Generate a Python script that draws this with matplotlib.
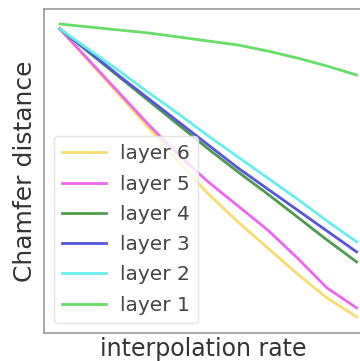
import numpy as np
import matplotlib.pyplot as plt

# interpolation rate samples
rate = [0.0, 0.1, 0.2, 0.3, 0.4, 0.5, 0.6, 0.7, 0.8, 0.9, 1.0]

# Chamfer distance per layer (arbitrary units)
layer_6 = [3.04, 2.71, 2.38, 2.05, 1.71, 1.39, 1.11, 0.85, 0.59, 0.35, 0.16]
layer_5 = [3.04, 2.72, 2.40, 2.08, 1.78, 1.51, 1.27, 1.03, 0.75, 0.45, 0.25]
layer_4 = [3.04, 2.80, 2.56, 2.32, 2.08, 1.84, 1.61, 1.39, 1.16, 0.93, 0.71]
layer_3 = [3.04, 2.81, 2.57, 2.34, 2.11, 1.88, 1.65, 1.44, 1.23, 1.02, 0.81]
layer_2 = [3.04, 2.83, 2.62, 2.40, 2.19, 1.97, 1.76, 1.55, 1.34, 1.12, 0.91]
layer_1 = [3.09, 3.06, 3.03, 3.00, 2.96, 2.92, 2.88, 2.82, 2.75, 2.67, 2.58]

labels = ['layer 6', 'layer 5', 'layer 4', 'layer 3', 'layer 2', 'layer 1']
series = [layer_6, layer_5, layer_4, layer_3, layer_2, layer_1]
colors = ['#f7dc6f', '#ee66ee', '#4e9a4e', '#5555dd', '#66eeee', '#66dd66']

fig = plt.figure(figsize=(3.6, 3.61), dpi=100)
ax = fig.add_axes([0.122, 0.078, 0.885, 0.897])

for vals, lab, col in zip(series, labels, colors):
    ax.plot(rate, vals, color=col, lw=2, label=lab)

ax.set_xlim(-0.054, 1.02)
ax.set_ylim(0.0, 3.24)
ax.set_xticks([])
ax.set_yticks([])
for sp in ax.spines.values():
    sp.set_color('#999999')
    sp.set_linewidth(1.2)

ax.set_xlabel('interpolation rate', fontsize=17, color='#333333', labelpad=3)
ax.set_ylabel('Chamfer distance', fontsize=18, color='#333333', labelpad=5)

leg = ax.legend(loc='lower left', fontsize=14.5, labelcolor='#444444',
                handlelength=2.2, handletextpad=0.7, borderaxespad=0.5,
                labelspacing=0.56, borderpad=0.4,
                framealpha=0.8, edgecolor='#dddddd')

plt.savefig('out.png', dpi=100)
